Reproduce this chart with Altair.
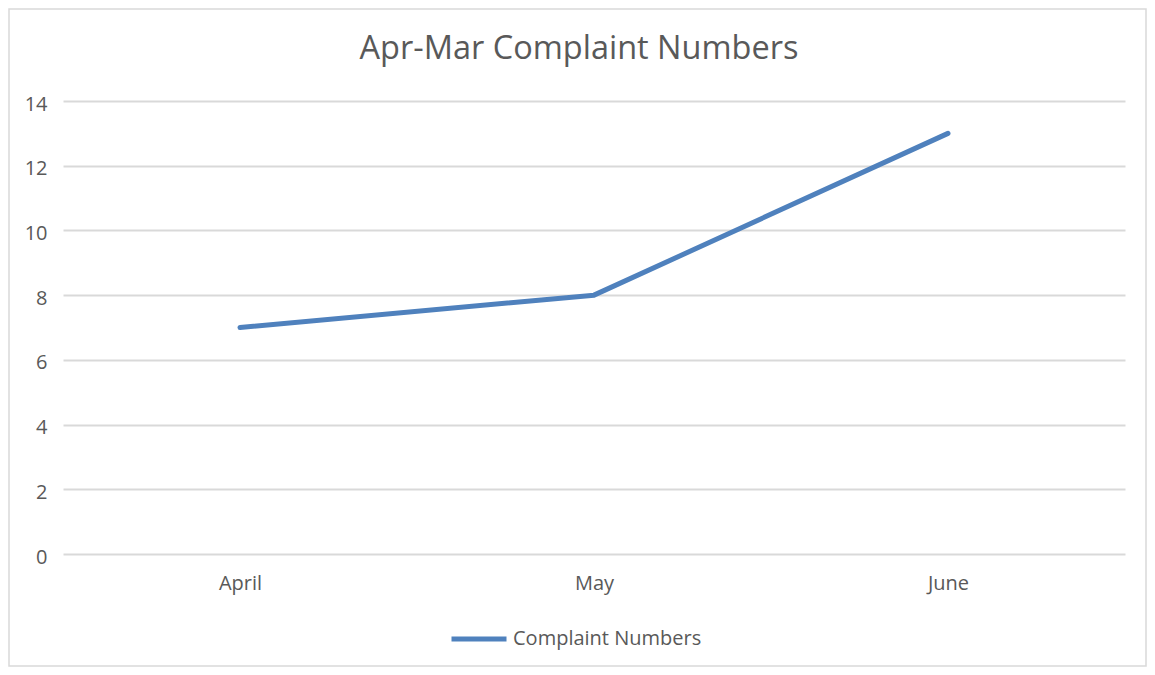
import altair as alt
import pandas as pd

months = ["April", "May", "June"]
complaints = [7, 8, 13]
series_name = "Complaint Numbers"
y_ticks = [0, 2, 4, 6, 8, 10, 12, 14]
title_text = "Apr-Mar Complaint Numbers"

df = pd.DataFrame({"month": months, "value": complaints, "series": [series_name] * len(months)})

FONT = "Open Sans"
TXT = "#595959"
BLUE = "#4F81BD"
GRID = "#D9D9D9"

W, H = 1062, 453
PAD = {"left": 55, "top": 93, "right": 22, "bottom": 113}

line = alt.Chart(df).mark_line(strokeWidth=5, strokeCap="round", strokeJoin="round").encode(
    x=alt.X("month:N", sort=months,
            scale=alt.Scale(type="point", padding=0.5),
            axis=alt.Axis(title=None, labelAngle=0, ticks=False, domain=False, grid=False,
                          labelPadding=19, labelFontSize=20, labelColor=TXT, labelFont=FONT)),
    y=alt.Y("value:Q", scale=alt.Scale(domain=[0, 14], nice=False),
            axis=alt.Axis(title=None, values=y_ticks, ticks=False, domain=False,
                          gridColor=GRID, gridWidth=2, labelPadding=16, labelFontSize=20,
                          labelOffset=3, labelColor=TXT, labelFont=FONT)),
    color=alt.Color("series:N", scale=alt.Scale(range=[BLUE]),
                    legend=alt.Legend(title=None, orient="none", legendX=386, legendY=508,
                                      symbolType="stroke", symbolSize=3025, symbolStrokeWidth=5,
                                      labelFontSize=20, labelColor=TXT, labelFont=FONT,
                                      labelLimit=0, labelOffset=4, padding=0)),
)

border = alt.Chart(pd.DataFrame({"a": [0]})).mark_rect(
    fill=None, stroke=GRID, strokeWidth=1.5, clip=False
).encode(
    x=alt.value(-PAD["left"] + 1), x2=alt.value(W + PAD["right"] - 1),
    y=alt.value(-PAD["top"] + 1), y2=alt.value(H + PAD["bottom"] - 1),
)

title = alt.Chart(pd.DataFrame({"t": [title_text]})).mark_text(
    font=FONT, fontSize=32.5, color=TXT, align="center", baseline="alphabetic"
).encode(
    text="t:N", x=alt.value(516), y=alt.value(-42),
)

chart = alt.layer(border, title, line).properties(
    width=W, height=H,
    autosize=alt.AutoSizeParams(type="none"),
    padding=PAD,
    background="white",
).configure_view(stroke=None)

chart.save("out.html", embed_options={"renderer": "svg", "actions": False})
